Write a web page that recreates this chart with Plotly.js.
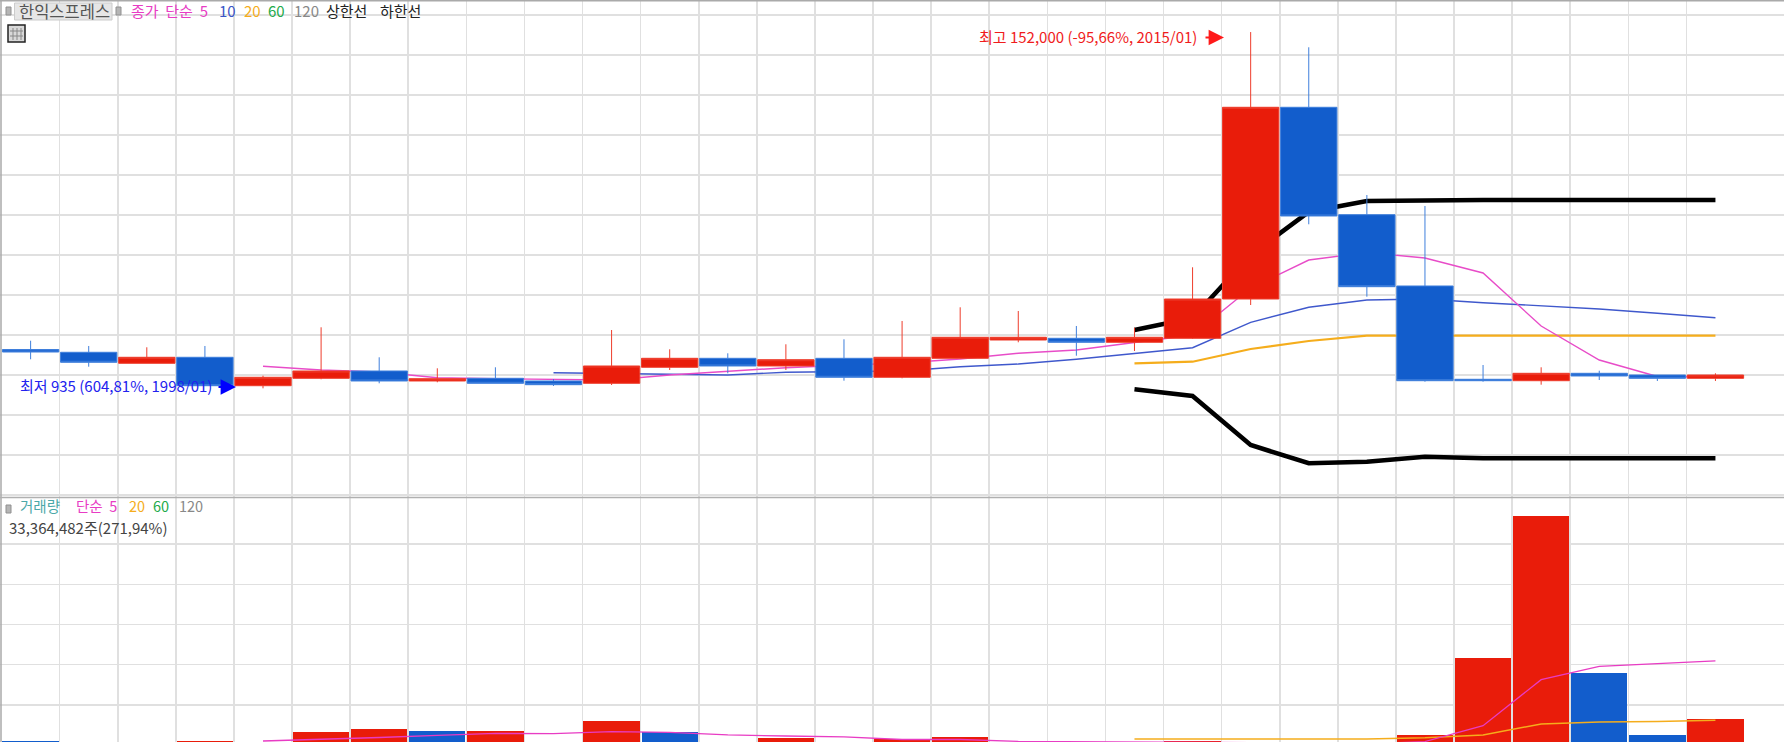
<!DOCTYPE html>
<html><head><meta charset="utf-8">
<script src="https://cdn.plot.ly/plotly-3.0.1.min.js"></script>
<style>html,body{margin:0;padding:0;background:#fff;overflow:hidden}#c{width:1784px;height:742px}</style>
</head><body><div id="c"></div>
<script>
const W = 1784, H = 742;
const idx = Array.from({length:30},(_, i)=>i);
const open  = [17400,16220,11550,14100,2050,5190,8290,4050,5190,4050,3070,9860,13670,10410,13670,5620,13670,21430,22150,20460,22150,38810,120100,74560,44330,4770,4170,7310,6590,5190];
const high  = [21130,18890,18340,18890,6290,26820,14100,9430,9860,4890,25670,17490,15790,19610,21730,29490,35300,33730,27370,26650,52260,152000,145540,82910,78250,10830,9860,8410,6590,7310];
const low   = [13250,10110,11550,2050,935,4770,3070,3500,3070,1930,2350,8710,7310,8710,4170,5190,13670,20460,14770,16770,21850,36270,70490,39790,3750,3750,2480,4470,4050,4050];
const close = [16340,11980,14100,2050,5620,8290,4050,5020,3070,2480,10410,13670,10410,13080,5620,14100,22580,22580,20460,22580,38810,120100,74010,44030,4170,4170,7310,6170,5190,6590];
const N = null;
const ma5   = [N,N,N,N,10280,8710,7860,5450,5020,4890,4470,6590,8290,9690,10700,11680,13370,15790,17190,20290,23550,43480,55350,58530,56200,49840,27370,12950,5950,5740];
const ma10  = [N,N,N,N,N,N,N,N,N,7570,7310,7010,6590,7740,7990,8290,10110,11250,13250,15790,18170,28940,35300,38390,38810,37250,35970,34570,32750,30890];
const ma20  = [N,N,N,N,N,N,N,N,N,N,N,N,N,N,N,N,N,N,N,11550,12230,17610,21010,23250,23250,23250,23250,23250,23250,23250];
const upper = [N,N,N,N,N,N,N,N,N,N,N,N,N,N,N,N,N,N,N,25670,30760,57470,75700,80370,80790,80790,80790,80790,80790,80790];
const lower = [N,N,N,N,N,N,N,N,N,N,N,N,N,N,N,N,N,N,N,527,-2310,-23090,-30850,-30170,-28050,-28730,-28730,-28730,-28730,-28730];
const currentPrice = 6590;
const volume = [5.1,2.5,2.0,5.1,2.5,16.1,19.9,17.8,17.8,2.5,30.5,16.1,2.5,8.9,2.5,7.0,10.2,2.5,2.5,2.0,5.1,2.5,2.0,1.5,12.7,110.1,289.2,91.1,12.7,33.4];
const volMa5 = [N,N,N,N,5.1,7.0,9.5,12.1,14.6,14.4,16.9,16.1,12.7,11.4,10.2,7.0,7.0,4.6,4.2,3.0,3.0,3.0,3.0,1.3,4.4,24.5,82.6,99.4,102.9,106.3];
const volMa20 = [N,N,N,N,N,N,N,N,N,N,N,N,N,N,N,N,N,N,N,7.6,7.6,7.6,7.6,7.6,9.3,12.7,26.7,29.2,29.6,31.4];
const volGrid = [50.8,101.6,152.4,203.2,254];
const legendTop = [["종가\u00a0\u00a0단순\u00a0\u00a05",130,"#e83cc4"],["10",218,"#3a55c8"],["20",243,"#f5ad1c"],["60",267,"#22aa4a"],["120",293,"#888888"],["상한선",325,"#222222"],["하한선",379,"#222222"]];
const legendVol = [["거래량",19,"#4aa8a8"],["단순\u00a0\u00a05",75,"#e83cc4"],["20",128,"#f5ad1c"],["60",152,"#22aa4a"],["120",178,"#888888"]];

const RED="#e91c0a", BLUE="#125dcc", GRID="#e0e0e0";
const FONT='"Liberation Sans Narrow","Noto Sans CJK KR",sans-serif';
const px = x=>x/W, py = y=>1-y/H;
const barColors = volume.map((v,i)=> i===0 || v<volume[i-1] ? BLUE : RED);
const lineT = (y,color,width)=>({x:idx,y,type:'scatter',mode:'lines',connectgaps:false,line:{color,width},hoverinfo:'skip',xaxis:'x',yaxis:'y',zorder:0});
const traces = [
  lineT(upper,"#000000",4.6), lineT(lower,"#000000",4.6),
  lineT(ma20,"#f5ad1c",2.2), lineT(ma10,"#3f58cc",1.4), lineT(ma5,"#e84cc8",1.4),
  {x:idx,open,high,low,close,type:'candlestick',xaxis:'x',yaxis:'y',zorder:1,whiskerwidth:0,
   increasing:{line:{color:"#ee3d2c",width:1},fillcolor:RED},
   decreasing:{line:{color:"#3f7fdc",width:1},fillcolor:BLUE},hoverinfo:'skip'},
  {x:idx,y:volume,type:'bar',xaxis:'x',yaxis:'y2',width:0.97,marker:{color:barColors,line:{width:0}},hoverinfo:'skip'},
  {x:idx,y:volMa20,type:'scatter',mode:'lines',xaxis:'x',yaxis:'y2',line:{color:"#f5ad1c",width:1.5},hoverinfo:'skip'},
  {x:idx,y:volMa5,type:'scatter',mode:'lines',xaxis:'x',yaxis:'y2',line:{color:"#e83cc4",width:1.3},hoverinfo:'skip'}
];
const SZ=15;
const note=(text,x,y,color,size,extra)=>Object.assign({text,xref:'paper',yref:'paper',x:px(x),y:py(y),xanchor:'left',yanchor:'middle',showarrow:false,borderpad:0,font:{family:FONT,size:size||SZ,color}},extra||{});
const arrow=(x0,x1,y,color)=>({xref:'paper',yref:'paper',axref:'pixel',ayref:'pixel',x:px(x1),y:py(y),ax:x0-x1,ay:0,text:'',showarrow:true,arrowhead:2,arrowsize:1.4,arrowwidth:2.2,arrowcolor:color});
const annotations = [
  note("한익스프레스",18,11,"#555555",16.5,{font:{family:'"Noto Sans CJK KR"',size:16.5,color:"#555555"}}),
  ...legendTop.map(a=>note(a[0],a[1],11,a[2])),
  ...legendVol.map(a=>note(a[0],a[1],505.5,a[2],14.5)),
  note("33,364,482주(271,94%)",8,527,"#444444",15),
  note("최고\u00a0152,000\u00a0(-95,66%,\u00a02015/01)",978,36.5,"#f01c1c"),
  arrow(1204,1224,37.5,"#ff1a1a"),
  note("최저\u00a0935\u00a0(604,81%,\u00a01998/01)",19,385,"#2222ee"),
  arrow(217,236,387,"#0000ff")
];
const box=(x0,y0,x1,y1,fill,color,w)=>({type:'rect',xref:'paper',yref:'paper',x0:px(x0),x1:px(x1),y0:py(y0),y1:py(y1),fillcolor:fill,line:{color:color||fill,width:w===undefined?0:w},layer:'above'});
const hline=(x0,x1,y,color,w,layer)=>({type:'line',xref:'paper',yref:'paper',x0:px(x0),x1:px(x1),y0:py(y),y1:py(y),line:{color,width:w},layer:layer||'above'});
const vline=(x,y0,y1,color,w)=>({type:'line',xref:'paper',yref:'paper',x0:px(x),x1:px(x),y0:py(y0),y1:py(y1),line:{color,width:w},layer:'above'});
const shapes = [
  {type:'line',xref:'paper',yref:'y',x0:0,x1:1,y0:currentPrice,y1:currentPrice,line:{color:"#f52a2a",width:1.5},layer:'below'},
  hline(0,W,0.7,"#aaaaaa",1.5), vline(1,0,H,"#aaaaaa",1.5), hline(0,W,497.5,"#b0b0b0",1.5),
  box(14.5,3,112,20,"#e6e6e6","#cccccc",1),
  box(6,7,11,15,"#b5b5b5","#909090",1), box(116,7,121,15,"#b5b5b5","#909090",1), box(6,505,11,513,"#b5b5b5","#909090",1),
  box(8,25,25,42,"#d8d8d8","#222222",1.5),
  vline(13,28,40,"#888888",1), vline(17,28,40,"#888888",1), vline(21,28,40,"#888888",1),
  hline(10,23,31,"#888888",1), hline(10,23,36,"#888888",1)
];
const layout = {
  width:W,height:H,margin:{l:0,r:0,t:0,b:0,pad:0},paper_bgcolor:"#fff",plot_bgcolor:"#fff",showlegend:false,
  boxgap:0.03,boxgroupgap:0,boxmode:'overlay',bargap:0,
  xaxis:{type:'linear',domain:[0,1],range:[-0.527,30.18],autorange:false,anchor:'y2',tickmode:'array',tickvals:idx.slice(0,29).map(i=>i+0.5),showticklabels:false,ticks:'',showgrid:true,gridcolor:GRID,gridwidth:1.6,zeroline:false,showline:false,rangeslider:{visible:false},fixedrange:true},
  yaxis:{domain:[(H-497)/H,1],range:[-45138,165590],autorange:false,anchor:'x',tick0:currentPrice,dtick:16960,showticklabels:false,ticks:'',showgrid:true,gridcolor:GRID,gridwidth:1.6,zeroline:false,showline:false,fixedrange:true},
  yaxis2:{domain:[0,(H-497)/H],range:[3.81,313.7],autorange:false,anchor:'x',tickmode:'array',tickvals:volGrid,showticklabels:false,ticks:'',showgrid:true,gridcolor:GRID,gridwidth:1.6,zeroline:false,showline:false,fixedrange:true},
  annotations,shapes
};
Plotly.newPlot('c',traces,layout,{staticPlot:true,displayModeBar:false});
</script></body></html>
